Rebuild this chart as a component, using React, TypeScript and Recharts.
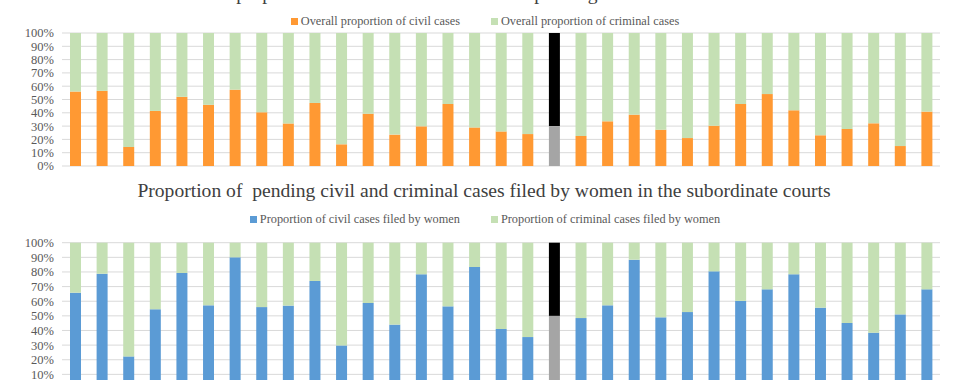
import React from "react";
import { BarChart, Bar, XAxis, YAxis, CartesianGrid, Legend, Cell } from "recharts";

// 33 courts / states, labels not shown in the picture
const categories = [
  "C1", "C2", "C3", "C4", "C5", "C6", "C7", "C8", "C9", "C10", "C11",
  "C12", "C13", "C14", "C15", "C16", "C17", "C18", "All", "C20", "C21", "C22",
  "C23", "C24", "C25", "C26", "C27", "C28", "C29", "C30", "C31", "C32", "C33",
];

const overallCivil = [
  56, 56.5, 14.3, 41.4, 52, 46, 57.4, 40.4, 32, 47.4, 16.3,
  39.3, 23.6, 29.8, 46.6, 29, 26, 24, 30, 22.6, 33.6, 38.6,
  27.3, 21, 30.3, 46.6, 54.1, 41.9, 23.1, 27.8, 32.1, 15, 40.9,
];
const overallCriminal = [
  44, 43.5, 85.7, 58.6, 48, 54, 42.6, 59.6, 68, 52.6, 83.7,
  60.7, 76.4, 70.2, 53.4, 71, 74, 76, 70, 77.4, 66.4, 61.4,
  72.7, 79, 69.7, 53.4, 45.9, 58.1, 76.9, 72.2, 67.9, 85, 59.1,
];

const womenCivil = [
  65.8, 78.8, 22.3, 54.5, 79.3, 57.2, 90, 56, 57, 73.8, 29.8,
  58.8, 44, 78.4, 56.5, 83.4, 41, 35.5, 50, 48.5, 57.2, 88.4,
  49, 52.6, 80.4, 60.2, 68.1, 78.4, 55.6, 45.1, 38.5, 51, 68.1,
];
const womenCriminal = [
  34.2, 21.2, 77.7, 45.5, 20.7, 42.8, 10, 44, 43, 26.2, 70.2,
  41.2, 56, 21.6, 43.5, 16.6, 59, 64.5, 50, 51.5, 42.8, 11.6,
  51, 47.4, 19.6, 39.8, 31.9, 21.6, 44.4, 54.9, 61.5, 49, 31.9,
];

const yTicks = [0, 10, 20, 30, 40, 50, 60, 70, 80, 90, 100];
const totalIndex = 18;

const overallData = categories.map((c, i) => ({ name: c, civil: overallCivil[i], criminal: overallCriminal[i] }));
const womenData = categories.map((c, i) => ({ name: c, civil: womenCivil[i], criminal: womenCriminal[i] }));

const FONT = "'Liberation Serif', 'Times New Roman', serif";
const GREEN = "#C5E0B4";

const renderLegend = (props: any) => {
  const { payload } = props;
  return (
    <div style={{ display: "flex", justifyContent: "center", alignItems: "center", height: 22, fontFamily: FONT, fontSize: 12.3, color: "#595959" }}>
      {payload.map((p: any, i: number) => (
        <div key={i} style={{ display: "flex", alignItems: "center", marginRight: i === 0 ? 31 : 0 }}>
          <span style={{ display: "inline-block", width: 7, height: 7, background: p.color, marginRight: 3 }} />
          <span>{p.value}</span>
        </div>
      ))}
    </div>
  );
};

const tickStyle = { fill: "#595959", fontSize: 12.5, fontFamily: FONT };

const StackChart = ({ data, civilColor, civilName, criminalName, legendTop, marginTop, height, top }: any) => (
  <div style={{ position: "absolute", left: 0, top }}>
    <BarChart width={980} height={height} data={data} margin={{ top: marginTop, right: 40, left: 0, bottom: 6 }} barSize={11}>
      <CartesianGrid vertical={false} stroke="#D9D9D9" strokeWidth={1} />
      <XAxis dataKey="name" hide />
      <YAxis
        domain={[0, 100]}
        ticks={yTicks}
        interval={0}
        tickFormatter={(v: number) => `${v}%`}
        axisLine={false}
        tickLine={false}
        width={62}
        tick={tickStyle}
      />
      <Legend verticalAlign="top" content={renderLegend} wrapperStyle={{ top: legendTop, left: 0, width: 970 }} />
      <Bar dataKey="civil" name={civilName} stackId="a" fill={civilColor} isAnimationActive={false}>
        {data.map((_: any, i: number) => (
          <Cell key={i} fill={i === totalIndex ? "#A5A5A5" : civilColor} />
        ))}
      </Bar>
      <Bar dataKey="criminal" name={criminalName} stackId="a" fill={GREEN} isAnimationActive={false}>
        {data.map((_: any, i: number) => (
          <Cell key={i} fill={i === totalIndex ? "#000000" : GREEN} />
        ))}
      </Bar>
    </BarChart>
  </div>
);

const titleStyle: React.CSSProperties = {
  position: "absolute",
  left: 0,
  width: 968,
  textAlign: "center",
  fontFamily: FONT,
  fontSize: 19.6,
  lineHeight: "20px",
  color: "#404040",
  whiteSpace: "pre",
};

export default function App() {
  return (
    <div style={{ position: "absolute", left: 0, top: 0, width: 980, height: 380, overflow: "hidden", background: "#fff" }}>
      <div style={{ ...titleStyle, top: -16 }}>
        Overall proportion of civil and criminal cases pending in the subordinate courts
      </div>
      <StackChart
        data={overallData}
        civilColor="#FF9933"
        civilName="Overall proportion of civil cases"
        criminalName="Overall proportion of criminal cases"
        legendTop={10}
        marginTop={11}
        height={172}
        top={0}
      />
      <div style={{ ...titleStyle, top: 181 }}>
        {"Proportion of  pending civil and criminal cases filed by women in the subordinate courts"}
      </div>
      <StackChart
        data={womenData}
        civilColor="#5B9BD5"
        civilName="Proportion of civil cases filed by women"
        criminalName="Proportion of criminal cases filed by women"
        legendTop={33}
        marginTop={45.7}
        height={220}
        top={175}
      />
    </div>
  );
}
